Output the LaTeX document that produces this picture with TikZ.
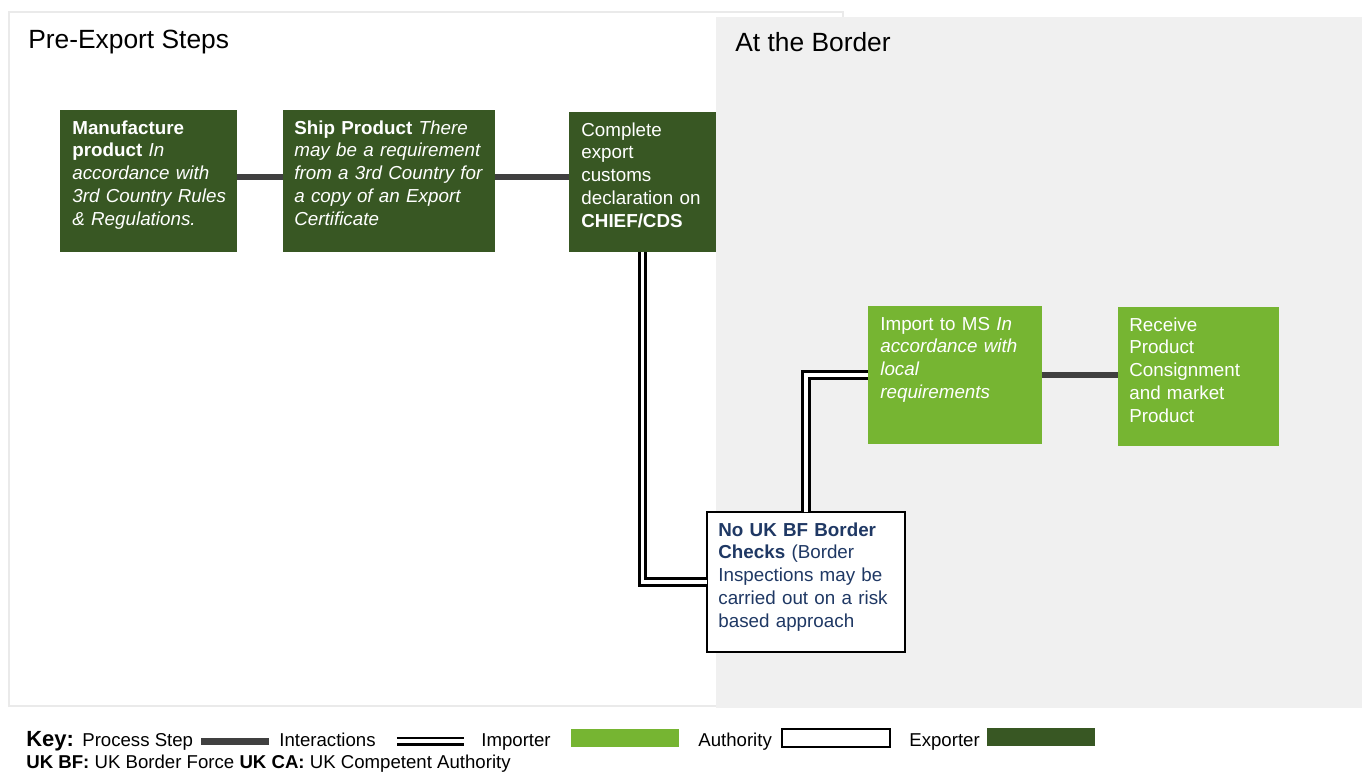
\documentclass[tikz,border=0pt]{standalone}
\usepackage{fontspec}
\setmainfont{Liberation Sans}
\usepackage{xcolor}
\usepackage{tikz}

\definecolor{expgreen}{RGB}{56,87,35}
\definecolor{impgreen}{RGB}{118,181,50}
\definecolor{panelgrey}{RGB}{240,240,240}
\definecolor{edgegrey}{RGB}{234,234,234}
\definecolor{procgrey}{RGB}{64,64,64}
\definecolor{authblue}{RGB}{31,56,100}

\tikzset{
    box/.style={anchor=north west, inner sep=0pt, outer sep=0pt},
    exporter/.style={box, fill=expgreen},
    importer/.style={box, fill=impgreen},
    authority/.style={box, fill=white, draw=black, line width=1.1pt},
    boxtext/.style={anchor=base west, inner sep=0pt, align=left, text width=4.2cm,
        font=\fontsize{10.7}{13.04}\selectfont},
    title/.style={anchor=base west, inner sep=0pt, font=\fontsize{15}{18}\selectfont},
    keytext/.style={anchor=base west, inner sep=0pt, font=\fontsize{10.6}{13}\selectfont},
    process/.style={draw=procgrey, line width=3.6pt},
    interaction/.style={draw=black, line width=1.6pt, double=white, double distance=2.2pt},
}

\begin{document}
\begin{tikzpicture}[x=0.02cm, y=-0.02cm]
    \useasboundingbox (0,0) rectangle (1364,772);

    % panels
    \draw[edgegrey, line width=1pt, fill=white] (9,12) rectangle (843,706);
    \fill[panelgrey] (716,17) rectangle (1362,708);
    \node[title] (pretitle) at (28,48) {Pre-Export Steps};
    \node[title] (bordertitle) at (735,51) {At the Border};

    % exporter steps
    \node[exporter, minimum width=3.54cm, minimum height=2.84cm] (mfg) at (60,110) {};
    \node[exporter, minimum width=4.24cm, minimum height=2.84cm] (ship) at (283,110) {};
    \node[exporter, minimum width=2.94cm, minimum height=2.80cm] (cds) at (569,112) {};

    % importer steps
    \node[importer, minimum width=3.48cm, minimum height=2.76cm] (imp) at (868,306) {};
    \node[importer, minimum width=3.22cm, minimum height=2.78cm] (rcv) at (1118,307) {};

    % authority
    \node[authority, minimum width=3.96cm, minimum height=2.80cm] (nouk) at (707,512) {};

    % process steps
    \draw[process] ([yshift=0.08cm]mfg.east) -- ([yshift=0.08cm]mfg.east -| ship.west);
    \draw[process] ([yshift=0.08cm]ship.east) -- ([yshift=0.08cm]ship.east -| cds.west);
    \draw[process] (imp.east) -- (imp.east -| rcv.west);

    % interactions
    \draw[interaction] (cds.south) |- (nouk.west);
    \draw[interaction] (nouk.north) |- (imp.west);

    % box texts
    \node[boxtext, white] (mfgtext) at (72,134) {\textbf{Manufacture}\\ \textbf{product} \textit{In}\\ \textit{accordance with}\\ \textit{3rd Country Rules}\\ \textit{\& Regulations.}};
    \node[boxtext, white] (shiptext) at (294,134) {\textbf{Ship Product} \textit{There}\\ \textit{may be a requirement}\\ \textit{from a 3rd Country for}\\ \textit{a copy of an Export}\\ \textit{Certificate}};
    \node[boxtext, white] (cdstext) at (581,136) {Complete\\ export\\ customs\\ declaration on\\ \textbf{CHIEF/CDS}};
    \node[boxtext, white] (imptext) at (880,330) {Import to MS \textit{In}\\ \textit{accordance with}\\ \textit{local}\\ \textit{requirements}};
    \node[boxtext, white] (rcvtext) at (1129,331) {Receive\\ Product\\ Consignment\\ and market\\ Product};
    \node[boxtext, authblue] (nouktext) at (718,536) {\textbf{No UK BF Border}\\ \textbf{Checks} (Border\\ Inspections may be\\ carried out on a risk\\ based approach};

    % key
    \node[keytext, font=\fontsize{12.5}{15}\selectfont\bfseries] (kkey) at (26,746) {Key:};
    \node[keytext] (kstep) at (82,746) {Process Step};
    \draw[process] ([xshift=0.16cm]kstep.mid east) -- ++(68,0);
    \node[keytext] (kint) at (279,746) {Interactions};
    \draw[interaction] ([xshift=0.42cm]kint.mid east) -- ++(67,0);
    \node[keytext] (kimp) at (481,746) {Importer};
    \node[importer, anchor=west, minimum width=2.16cm, minimum height=0.36cm] (kimpbox) at (571,738) {};
    \node[keytext] (kauth) at (698,746) {Authority};
    \node[authority, anchor=west, line width=0.9pt, minimum width=2.16cm, minimum height=0.36cm] (kauthbox) at (782,738) {};
    \node[keytext] (kexp) at (909,746) {Exporter};
    \node[exporter, anchor=west, minimum width=2.16cm, minimum height=0.36cm] (kexpbox) at (987,737) {};
    \node[keytext] (kabbr) at (26,768) {\textbf{UK BF:} UK Border Force \textbf{UK CA:} UK Competent Authority};
\end{tikzpicture}
\end{document}
